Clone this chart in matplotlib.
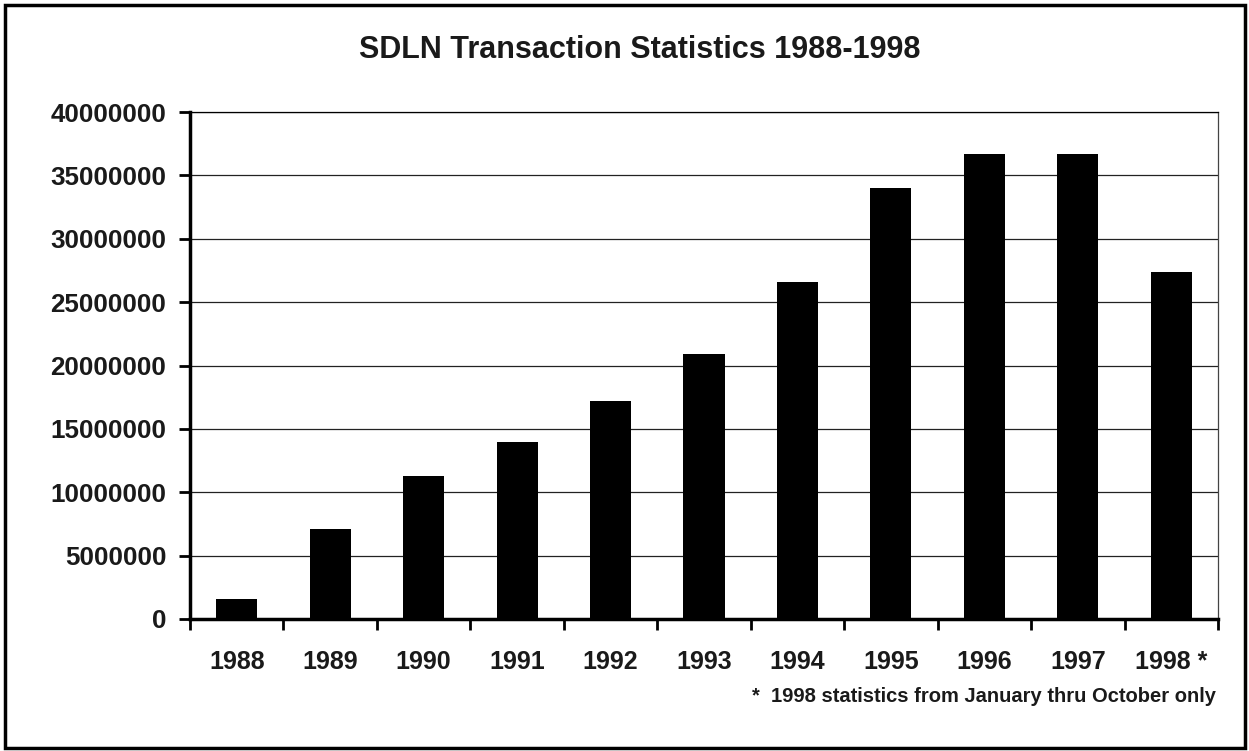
import numpy as np
import matplotlib.pyplot as plt
from matplotlib.patches import Rectangle

# data
years = ["1988", "1989", "1990", "1991", "1992", "1993",
         "1994", "1995", "1996", "1997", "1998 *"]
transactions = [1550000, 7100000, 11300000, 14000000, 17200000, 20900000,
                26550000, 34000000, 36700000, 36700000, 27400000]
y_ticks = [0, 5000000, 10000000, 15000000, 20000000, 25000000,
           30000000, 35000000, 40000000]

plt.rcParams['font.family'] = ['Liberation Sans', 'DejaVu Sans']

fig = plt.figure(figsize=(12.49, 7.51), dpi=100)
W, H = 1249, 751
# plot area in pixels: left 190, right 1218, top 112, bottom 619
ax = fig.add_axes([190 / W, 1 - 619 / H, (1218 - 190) / W, (619 - 112) / H])

x = np.arange(len(years))
ax.bar(x, transactions, width=0.44, color='black', zorder=3)

ax.set_xlim(-0.5, len(years) - 0.5)
ax.set_ylim(0, 40000000)
ax.set_yticks(y_ticks)
ax.set_yticklabels([str(v) for v in y_ticks], fontsize=18.7, fontweight='bold',
                   color='#1a1a1a')
ax.yaxis.grid(True, color='#222222', linewidth=0.9, zorder=0)

# category labels centered, ticks on category boundaries
ax.set_xticks(x)
ax.set_xticklabels(years, fontsize=18, fontweight='bold', color='#1a1a1a')
ax.tick_params(axis='x', which='major', length=0, pad=22)
ax.set_xticks(np.arange(-0.5, len(years)), minor=True)
ax.tick_params(axis='x', which='minor', length=8, width=2, direction='out')
ax.tick_params(axis='y', length=8, width=2, direction='out', pad=9)

for side in ['left', 'bottom']:
    ax.spines[side].set_linewidth(2.5)
ax.spines['top'].set_linewidth(0.9)
ax.spines['right'].set_linewidth(0.9)
ax.spines['right'].set_color('#444444')

fig.text(640 / W, 1 - 50 / H, "SDLN Transaction Statistics 1988-1998",
         ha='center', va='center', fontsize=22, fontweight='bold', color='#1a1a1a')
fig.text(1216 / W, 1 - 697 / H, "*  1998 statistics from January thru October only",
         ha='right', va='center', fontsize=14.5, fontweight='bold', color='#1a1a1a')

# frame around the whole chart
fig.patches.append(Rectangle((5 / W, 3 / H), 1240 / W, 743 / H,
                             transform=fig.transFigure, fill=False,
                             edgecolor='black', linewidth=2.5))

fig.savefig("out.png", dpi=100)
